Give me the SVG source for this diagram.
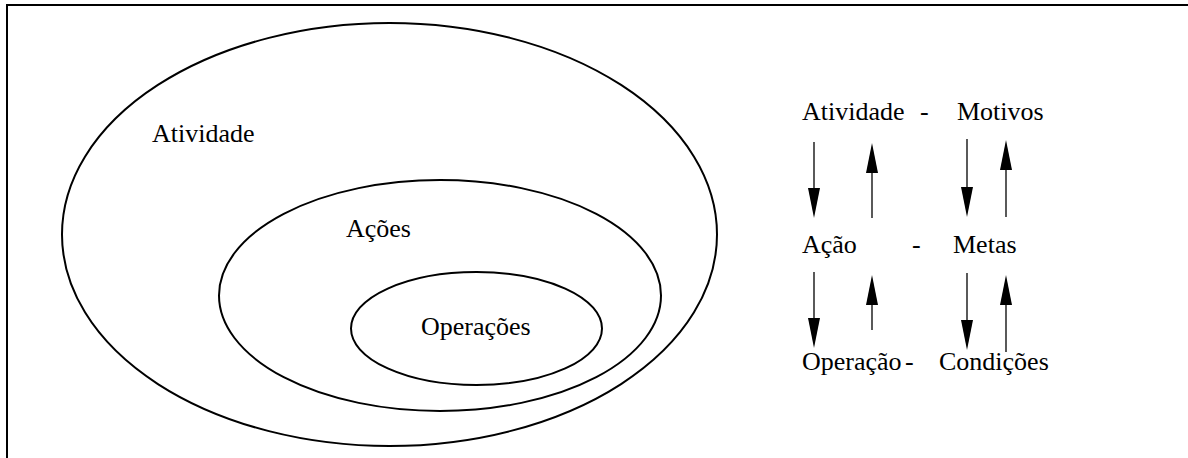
<svg xmlns="http://www.w3.org/2000/svg" width="1188" height="458" viewBox="0 0 1188 458">
<style>
text{font-family:'Liberation Serif','DejaVu Serif',serif;font-size:26px;fill:#000}
.e{fill:none;stroke:#000;stroke-width:2}
.a{stroke:#000;stroke-width:1.3;fill:none}
.h{fill:#000;stroke:none}
</style>
<defs>
<path id="hd" class="h" d="M-6,-30 L0,0 L6,-30 Z"/>
<path id="hu" class="h" d="M-6,30 L0,0 L6,30 Z"/>
</defs>
<rect width="1188" height="458" fill="#fff"/>
<path d="M7,458 V5 H1188" fill="none" stroke="#000" stroke-width="2"/>
<g id="atividade">
<ellipse class="e" cx="389.5" cy="234.5" rx="327.5" ry="211.5"/>
<text x="152" y="142" font-family="Liberation Serif, serif">Atividade</text>
</g>
<g id="acoes">
<ellipse class="e" cx="440" cy="295.5" rx="221" ry="115.5"/>
<text x="346" y="237" font-family="Liberation Serif, serif">Ações</text>
</g>
<g id="operacoes">
<ellipse class="e" cx="476.5" cy="328.5" rx="125.5" ry="56.5"/>
<text x="421" y="335" font-family="Liberation Serif, serif">Operações</text>
</g>
<g id="legend">
<text x="802" y="120">Atividade</text>
<text x="920" y="120">-</text>
<text x="957" y="120">Motivos</text>
<text x="802" y="253">Ação</text>
<text x="912" y="253">-</text>
<text x="953" y="253">Metas</text>
<text x="802" y="370">Operação</text>
<text x="905" y="370">-</text>
<text x="939" y="370">Condições</text>
</g>
<g id="connectors">
<line class="a" x1="814" y1="142" x2="814" y2="195"/><use href="#hd" x="814" y="218"/>
<line class="a" x1="872" y1="218" x2="872" y2="166"/><use href="#hu" x="872" y="143"/>
<line class="a" x1="967" y1="139" x2="967" y2="194"/><use href="#hd" x="967" y="217"/>
<line class="a" x1="1006" y1="217" x2="1006" y2="163"/><use href="#hu" x="1006" y="140"/>
<line class="a" x1="814" y1="272" x2="814" y2="325"/><use href="#hd" x="814" y="348"/>
<line class="a" x1="872" y1="330" x2="872" y2="298"/><use href="#hu" x="872" y="275"/>
<line class="a" x1="967" y1="273" x2="967" y2="327"/><use href="#hd" x="967" y="350"/>
<line class="a" x1="1006" y1="352" x2="1006" y2="298"/><use href="#hu" x="1006" y="275"/>
</g>
</svg>
